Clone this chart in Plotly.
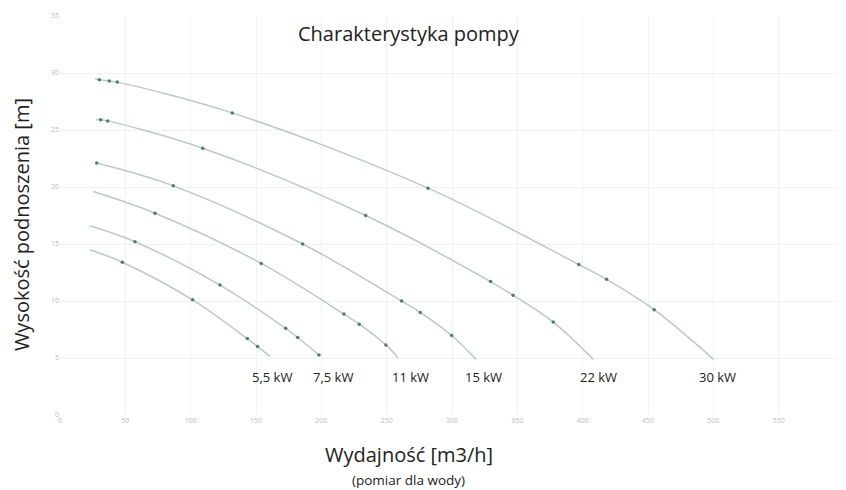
import plotly.graph_objects as go

# Pump curves: flow Q [m3/h], head H [m]
series = ["5,5 kW", "7,5 kW", "11 kW", "15 kW", "22 kW", "30 kW"]

q_55 = [23.0, 47.7, 101.5, 143.3, 151.2, 160.7]
h_55 = [14.5, 13.4, 10.1, 6.7, 6.0, 5.15]
m_55 = [0, 1, 1, 1, 1, 0]

q_75 = [23.0, 57.4, 122.4, 172.7, 181.9, 198.2]
h_75 = [16.6, 15.2, 11.4, 7.6, 6.8, 5.27]
m_75 = [0, 1, 1, 1, 1, 1]

q_11 = [25.5, 72.7, 154.0, 217.3, 229.0, 249.4, 258.8]
h_11 = [19.6, 17.7, 13.3, 8.85, 7.97, 6.15, 5.0]
m_11 = [0, 1, 1, 1, 1, 1, 0]

q_15 = [28.1, 86.7, 185.7, 261.4, 275.7, 299.7, 318.3]
h_15 = [22.1, 20.1, 15.0, 10.0, 9.0, 6.97, 4.9]
m_15 = [1, 1, 1, 1, 1, 1, 0]

q_22 = [27.5, 31.1, 36.5, 109.2, 233.9, 329.5, 346.8, 377.5, 408.0]
h_22 = [25.9, 25.9, 25.8, 23.4, 17.5, 11.7, 10.5, 8.15, 4.9]
m_22 = [0, 1, 1, 1, 1, 1, 1, 1, 0]

q_30 = [26.8, 30.1, 37.7, 43.8, 131.8, 281.6, 397.0, 418.3, 454.7, 500.0]
h_30 = [29.5, 29.4, 29.3, 29.2, 26.5, 19.9, 13.2, 11.9, 9.24, 4.9]
m_30 = [0, 1, 1, 1, 1, 1, 1, 1, 1, 0]

label_x = [162, 209, 268, 324, 412, 503]
label_y = [3.35] * 6

x_ticks = [0, 50, 100, 150, 200, 250, 300, 350, 400, 450, 500, 550, 600]
y_ticks = [0, 5, 10, 15, 20, 25, 30, 35]

curves = [(q_55, h_55, m_55), (q_75, h_75, m_75), (q_11, h_11, m_11),
          (q_15, h_15, m_15), (q_22, h_22, m_22), (q_30, h_30, m_30)]

FONT = "Open Sans"
fig = go.Figure()
for name, (q, h, m) in zip(series, curves):
    fig.add_trace(go.Scatter(
        x=q, y=h, mode="lines", name=name,
        line=dict(color="#bcc9c5", width=1.5, shape="spline", smoothing=1.0),
        hoverinfo="skip", showlegend=False))
    fig.add_trace(go.Scatter(
        x=[a for a, k in zip(q, m) if k], y=[b for b, k in zip(h, m) if k],
        mode="markers", name=name,
        marker=dict(color="#4f7d72", size=3.5),
        showlegend=False))

for name, lx, ly in zip(series, label_x, label_y):
    fig.add_annotation(x=lx, y=ly, text=name, showarrow=False,
                       font=dict(family=FONT, size=13, color="#222222"))

fig.add_annotation(xref="paper", yref="paper", x=0.445, y=0.957, yanchor="middle",
                   text="Charakterystyka pompy", showarrow=False,
                   font=dict(family=FONT, size=20, color="#222222"))
fig.add_annotation(xref="paper", yref="paper", x=0.445, y=-0.1, yanchor="middle",
                   text="Wydajność [m3/h]", showarrow=False,
                   font=dict(family=FONT, size=20, color="#222222"))
fig.add_annotation(xref="paper", yref="paper", x=0.445, y=-0.163, yanchor="middle",
                   text="(pomiar dla wody)", showarrow=False,
                   font=dict(family=FONT, size=13.5, color="#222222"))
fig.add_annotation(xref="paper", yref="paper", x=-0.0497, y=0.476,
                   xanchor="center", yanchor="middle",
                   text="Wysokość podnoszenia [m]", showarrow=False, textangle=-90,
                   font=dict(family=FONT, size=20, color="#222222"))

# page body has an 8px margin, so the figure is sized to fit the 846x490 window
fig.update_layout(
    width=838, height=482,
    margin=dict(l=52, r=2, t=8, b=75, autoexpand=False),
    paper_bgcolor="white", plot_bgcolor="white",
    xaxis=dict(range=[0, 600], tickvals=x_ticks, showgrid=True, gridcolor="#f2f2f2",
               zeroline=False, showline=False, ticks="", automargin=False,
               tickfont=dict(family=FONT, size=7, color="#bbbbbb")),
    yaxis=dict(range=[0, 35], tickvals=y_ticks, showgrid=True, gridcolor="#f2f2f2",
               zeroline=False, showline=False, ticks="", automargin=False,
               tickfont=dict(family=FONT, size=7, color="#bbbbbb")),
)
fig.write_html("out.html")
